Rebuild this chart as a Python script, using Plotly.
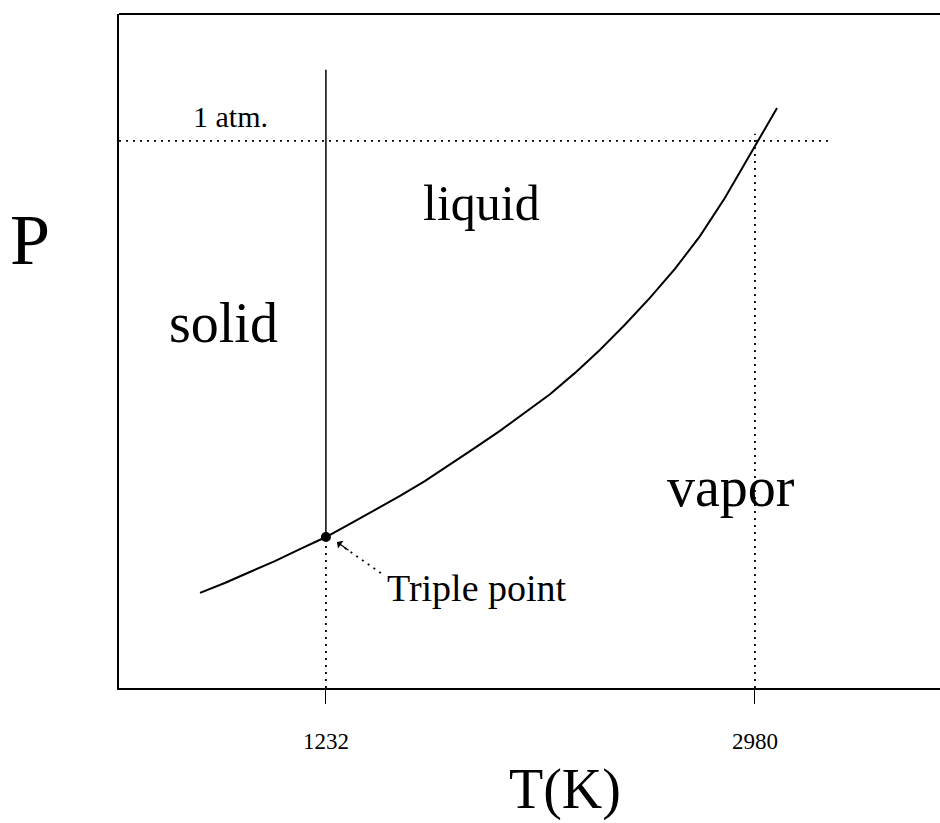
import plotly.graph_objects as go

# Coexistence (vapor-pressure) curve, T in K, P in atm (schematic)
curve_T = [719, 820, 922, 1024, 1126, 1232, 1330, 1432, 1534, 1635, 1737, 1839, 1941,
           2043, 2145, 2247, 2348, 2450, 2552, 2654, 2756, 2858, 2960, 2988, 3070]
curve_P = [0.174, 0.192, 0.212, 0.232, 0.254, 0.276, 0.300, 0.325, 0.351, 0.378, 0.408,
           0.439, 0.470, 0.503, 0.537, 0.576, 0.618, 0.664, 0.713, 0.766, 0.826, 0.896,
           0.974, 0.996, 1.060]

triple_T = 1232
triple_P = 0.276
boil_T = 2980
atm_P = 1.0
melt_top_P = 1.13
boil_guide_top_P = 1.013
atm_line_end_T = 3294

tick_vals = [1232, 2980]
tick_text = ["1232", "2980"]

regions = ["liquid", "solid", "vapor"]
region_T = [1864, 816, 2882]
region_P = [0.887, 0.667, 0.367]
region_size = [50, 56, 56]

x_range = [389, 3734]
y_range = [0, 1.232]

SERIF = "Liberation Serif"
W, H = 940, 823
ML, MT, MB = 119, 14, 135
PW, PH = W - ML, H - MT - MB
DOT = "2px,5px"

fig = go.Figure()

fig.add_trace(go.Scatter(x=curve_T, y=curve_P, mode="lines",
                         line=dict(color="black", width=2, shape="linear"),
                         hoverinfo="skip", showlegend=False))
fig.add_trace(go.Scatter(x=[triple_T, triple_T], y=[triple_P, melt_top_P], mode="lines",
                         line=dict(color="black", width=1.5),
                         hoverinfo="skip", showlegend=False))
fig.add_trace(go.Scatter(x=[triple_T, triple_T], y=[0, triple_P], mode="lines",
                         line=dict(color="black", width=1.8, dash=DOT),
                         hoverinfo="skip", showlegend=False))
fig.add_trace(go.Scatter(x=[boil_T, boil_T], y=[0, boil_guide_top_P], mode="lines",
                         line=dict(color="black", width=1.8, dash=DOT),
                         hoverinfo="skip", showlegend=False))
fig.add_trace(go.Scatter(x=[x_range[0], atm_line_end_T], y=[atm_P, atm_P], mode="lines",
                         line=dict(color="black", width=1.8, dash=DOT),
                         hoverinfo="skip", showlegend=False))
# dotted arrow shaft
fig.add_trace(go.Scatter(x=[1456, 1290], y=[0.210, 0.262], mode="lines",
                         line=dict(color="black", width=1.8, dash=DOT),
                         hoverinfo="skip", showlegend=False))
fig.add_trace(go.Scatter(x=[triple_T], y=[triple_P], mode="markers",
                         marker=dict(color="black", size=10),
                         hoverinfo="skip", showlegend=False))

# arrowhead
fig.add_annotation(x=1277, y=0.267, ax=1330, ay=0.250, xref="x", yref="y",
                   axref="x", ayref="y", text="", showarrow=True,
                   arrowhead=1, arrowsize=1.3, arrowwidth=1.2, arrowcolor="black")

for name, t, p, s in zip(regions, region_T, region_P, region_size):
    fig.add_annotation(x=t, y=p, text=name, showarrow=False,
                       font=dict(family=SERIF, size=s, color="black"))

fig.add_annotation(x=1847, y=0.183, text="Triple point", showarrow=False,
                   font=dict(family=SERIF, size=38, color="black"))
fig.add_annotation(x=845, y=1.044, text="1 atm.", showarrow=False,
                   font=dict(family=SERIF, size=30, color="black"))

def px_to_paper(px, py):
    return (px - ML) / PW, (H - MB - py) / PH

px_, py_ = px_to_paper(30, 240)
fig.add_annotation(x=px_, y=py_, xref="paper", yref="paper", text="P", showarrow=False,
                   xanchor="center", yanchor="middle",
                   font=dict(family=SERIF, size=72, color="black"))
px_, py_ = px_to_paper(565, 789)
fig.add_annotation(x=px_, y=py_, xref="paper", yref="paper", text="T(K)", showarrow=False,
                   xanchor="center", yanchor="middle",
                   font=dict(family=SERIF, size=56, color="black"))

fig.add_shape(type="line", xref="paper", yref="paper", x0=0, x1=1, y0=1, y1=1,
              line=dict(color="black", width=1.8))

fig.update_layout(
    width=W, height=H,
    margin=dict(l=ML, r=0, t=MT, b=MB),
    paper_bgcolor="white", plot_bgcolor="white",
    xaxis=dict(range=x_range, showgrid=False, zeroline=False, showline=True,
               linecolor="black", linewidth=1.8, ticks="outside", ticklen=14,
               tickcolor="black", tickwidth=1.2, tickvals=tick_vals, ticktext=tick_text,
               ticklabelstandoff=17,
               tickfont=dict(family=SERIF, size=23, color="black")),
    yaxis=dict(range=y_range, showgrid=False, zeroline=False, showline=True,
               linecolor="black", linewidth=1.8, showticklabels=False, ticks=""),
)

fig.write_html("out.html", config={"displayModeBar": False},
               post_script="document.body.style.margin='0';")
